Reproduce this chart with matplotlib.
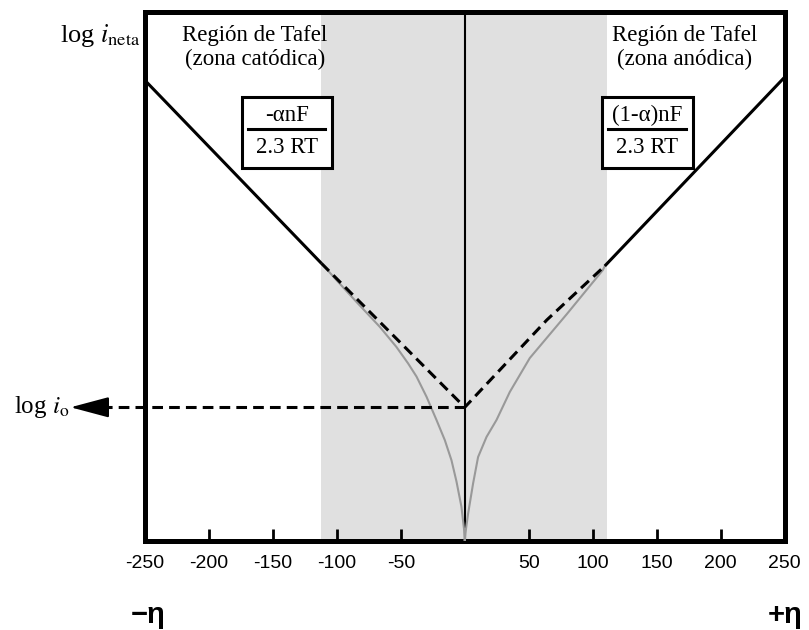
import numpy as np
import matplotlib.pyplot as plt
from matplotlib.patches import Rectangle
from matplotlib.lines import Line2D

plt.rcParams['mathtext.fontset'] = 'stix'

# sobrepotencial (mV) y log i (unidades arbitrarias)
eta_ticks = [-250, -200, -150, -100, -50, 50, 100, 150, 200, 250]
tafel_zone = (-112, 111)
log_i0 = 2.53

cat_eta = [-250, -112]
cat_log = [8.71, 5.25]
an_eta = [109.4, 250]
an_log = [5.20, 8.77]

extrap_eta = [-112, 0, 64.1, 109.4]
extrap_log = [5.25, 2.53, 4.18, 5.20]

curve_eta = [-112.0, -99.0, -84.6, -66.4, -53.4, -44.3, -37.7, -29.9, -22.1, -15.6,
             -10.4, -6.5, -2.6, -0.5, 0.0, 0.5, 2.6, 6.5, 10.4, 17.0, 24.8, 35.2,
             50.8, 79.7, 107.8, 109.4]
curve_log = [5.25, 4.90, 4.52, 4.05, 3.67, 3.36, 3.11, 2.73, 2.29, 1.91,
             1.53, 1.13, 0.65, 0.21, 0.0, 0.15, 0.52, 1.09, 1.59, 1.97, 2.29, 2.82,
             3.46, 4.29, 5.12, 5.20]

fig = plt.figure(figsize=(8.09, 6.30), dpi=100)
ax = fig.add_axes([0.179, 0.141, 0.791, 0.840])

ax.axvspan(tafel_zone[0], tafel_zone[1], color='#e0e0e0', lw=0, zorder=0)
ax.axvline(0, color='k', lw=1.5, zorder=2)
ax.plot(curve_eta, curve_log, color='#999999', lw=1.5, zorder=3)
ax.plot(extrap_eta, extrap_log, color='k', lw=2.2, ls=(0, (3.5, 2)), zorder=4)
ax.plot(cat_eta, cat_log, color='k', lw=2.2, zorder=4, solid_capstyle='butt')
ax.plot(an_eta, an_log, color='k', lw=2.2, zorder=4, solid_capstyle='butt')

# linea horizontal hacia log io
ax.plot([0, -282], [log_i0, log_i0], color='k', lw=2.2, ls=(0, (3.5, 2)),
        clip_on=False, zorder=4)
ax.annotate('', xy=(-308, log_i0), xytext=(-280, log_i0),
            arrowprops=dict(arrowstyle='-|>,head_length=1.2,head_width=0.32',
                            mutation_scale=20, color='k', lw=1.5,
                            shrinkA=0, shrinkB=0), annotation_clip=False)
ax.text(-309, log_i0, r'log $i_{\mathrm{o}}$', ha='right', va='center',
        family='Liberation Serif', fontsize=18)

ax.set_xlim(-250, 250)
ax.set_ylim(0, 10)
ax.set_xticks(eta_ticks)
ax.set_xticklabels([str(t) for t in eta_ticks], family='Liberation Sans', fontsize=14)
ax.set_yticks([])
ax.tick_params(axis='x', direction='in', length=9, width=2, pad=10)
for s in ax.spines.values():
    s.set_linewidth(3.6)

serif = 'Liberation Serif'
ax.text(0.172, 0.933, 'Región de Tafel\n(zona catódica)', transform=ax.transAxes,
        ha='center', va='center', family=serif, fontsize=16.5, linespacing=1.2)
ax.text(0.844, 0.933, 'Región de Tafel\n(zona anódica)', transform=ax.transAxes,
        ha='center', va='center', family=serif, fontsize=16.5, linespacing=1.2)

# cajas con las pendientes de Tafel
for x0, w, num in [(0.1516, 0.1406, '-αnF'), (0.714, 0.142, '(1-α)nF')]:
    ax.add_patch(Rectangle((x0, 0.705), w, 0.134, transform=ax.transAxes,
                           fc='white', ec='k', lw=2.2, zorder=6))
    ax.add_line(Line2D([x0 + 0.01, x0 + w - 0.01], [0.779, 0.779], transform=ax.transAxes,
                       color='k', lw=2.2, zorder=7))
    ax.text(x0 + w / 2, 0.805, num, transform=ax.transAxes, ha='center', va='center',
            family=serif, fontsize=16.5, zorder=8)
    ax.text(x0 + w / 2, 0.743, '2.3 RT', transform=ax.transAxes, ha='center', va='center',
            family=serif, fontsize=16.5, zorder=8)

fig.text(0.173, 0.944, r'log $i_{\mathrm{neta}}$', ha='right', va='center',
         family=serif, fontsize=19)
fig.text(0.183, 0.024, '−η', ha='center', va='center', family='Liberation Sans',
         fontweight='bold', fontsize=21)
fig.text(0.970, 0.024, '+η', ha='center', va='center', family='Liberation Sans',
         fontweight='bold', fontsize=21)

fig.savefig('out.png', dpi=100)
